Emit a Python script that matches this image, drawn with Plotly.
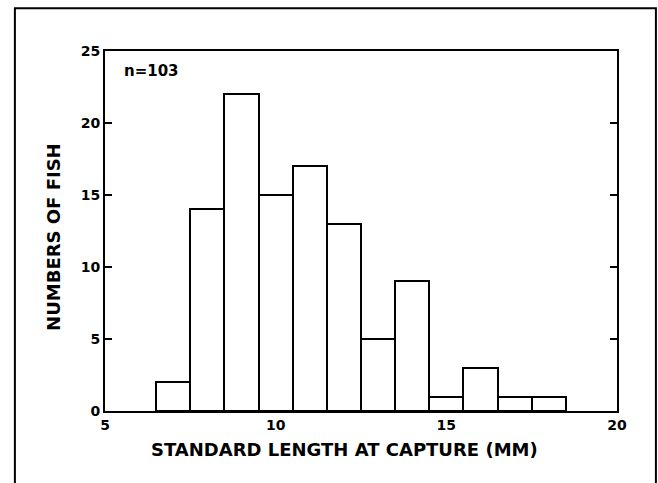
import plotly.graph_objects as go

bin_centers = [7, 8, 9, 10, 11, 12, 13, 14, 15, 16, 17, 18]
counts = [2, 14, 22, 15, 17, 13, 5, 9, 1, 3, 1, 1]
x_ticks = [5, 10, 15, 20]
y_ticks = [0, 5, 10, 15, 20, 25]
x_title = "STANDARD LENGTH AT CAPTURE (MM)"
y_title = "NUMBERS OF FISH"
note = "n=103"

FONT = "DejaVu Sans, Liberation Sans, Arial, sans-serif"

fig = go.Figure()
fig.add_trace(go.Bar(
    x=bin_centers, y=counts, width=1,
    marker=dict(color="white", line=dict(color="black", width=2)),
    showlegend=False,
))

fig.update_layout(
    width=658, height=483,
    margin=dict(l=105, r=41, t=51, b=72),
    paper_bgcolor="white", plot_bgcolor="white",
    font=dict(family=FONT, color="black"),
    bargap=0,
    xaxis=dict(
        range=[5, 20], tickvals=x_ticks, ticks="", showgrid=False, zeroline=False,
        showline=True, linecolor="black", linewidth=2, mirror=True,
        tickfont=dict(size=14, family=FONT, weight="bold"),
    ),
    yaxis=dict(
        range=[0, 25], tickvals=y_ticks, ticks="inside", ticklen=7, tickwidth=2, tickcolor="black",
        showgrid=False, zeroline=False,
        showline=True, linecolor="black", linewidth=2, mirror="ticks",
        tickfont=dict(size=14, family=FONT, weight="bold"),
    ),
    annotations=[
        dict(x=0.033, y=0.975, xref="paper", yref="paper", xanchor="left", yanchor="top",
             text=note, showarrow=False, font=dict(size=15, family=FONT, weight="bold")),
        dict(x=0.467, y=-0.106, xref="paper", yref="paper", xanchor="center", yanchor="middle",
             text=x_title, showarrow=False, font=dict(size=18, family=FONT, weight="bold")),
        dict(x=-0.102, y=0.483, xref="paper", yref="paper", xanchor="center", yanchor="middle",
             text=y_title, textangle=-90, showarrow=False,
             font=dict(size=18, family=FONT, weight="bold")),
    ],
    shapes=[dict(
        type="path", xref="paper", yref="paper",
        path="M -0.176 -0.3 L -0.176 1.119 L 1.076 1.119 L 1.076 -0.3",
        line=dict(color="black", width=2),
    )],
)

fig.write_html("out.html")
